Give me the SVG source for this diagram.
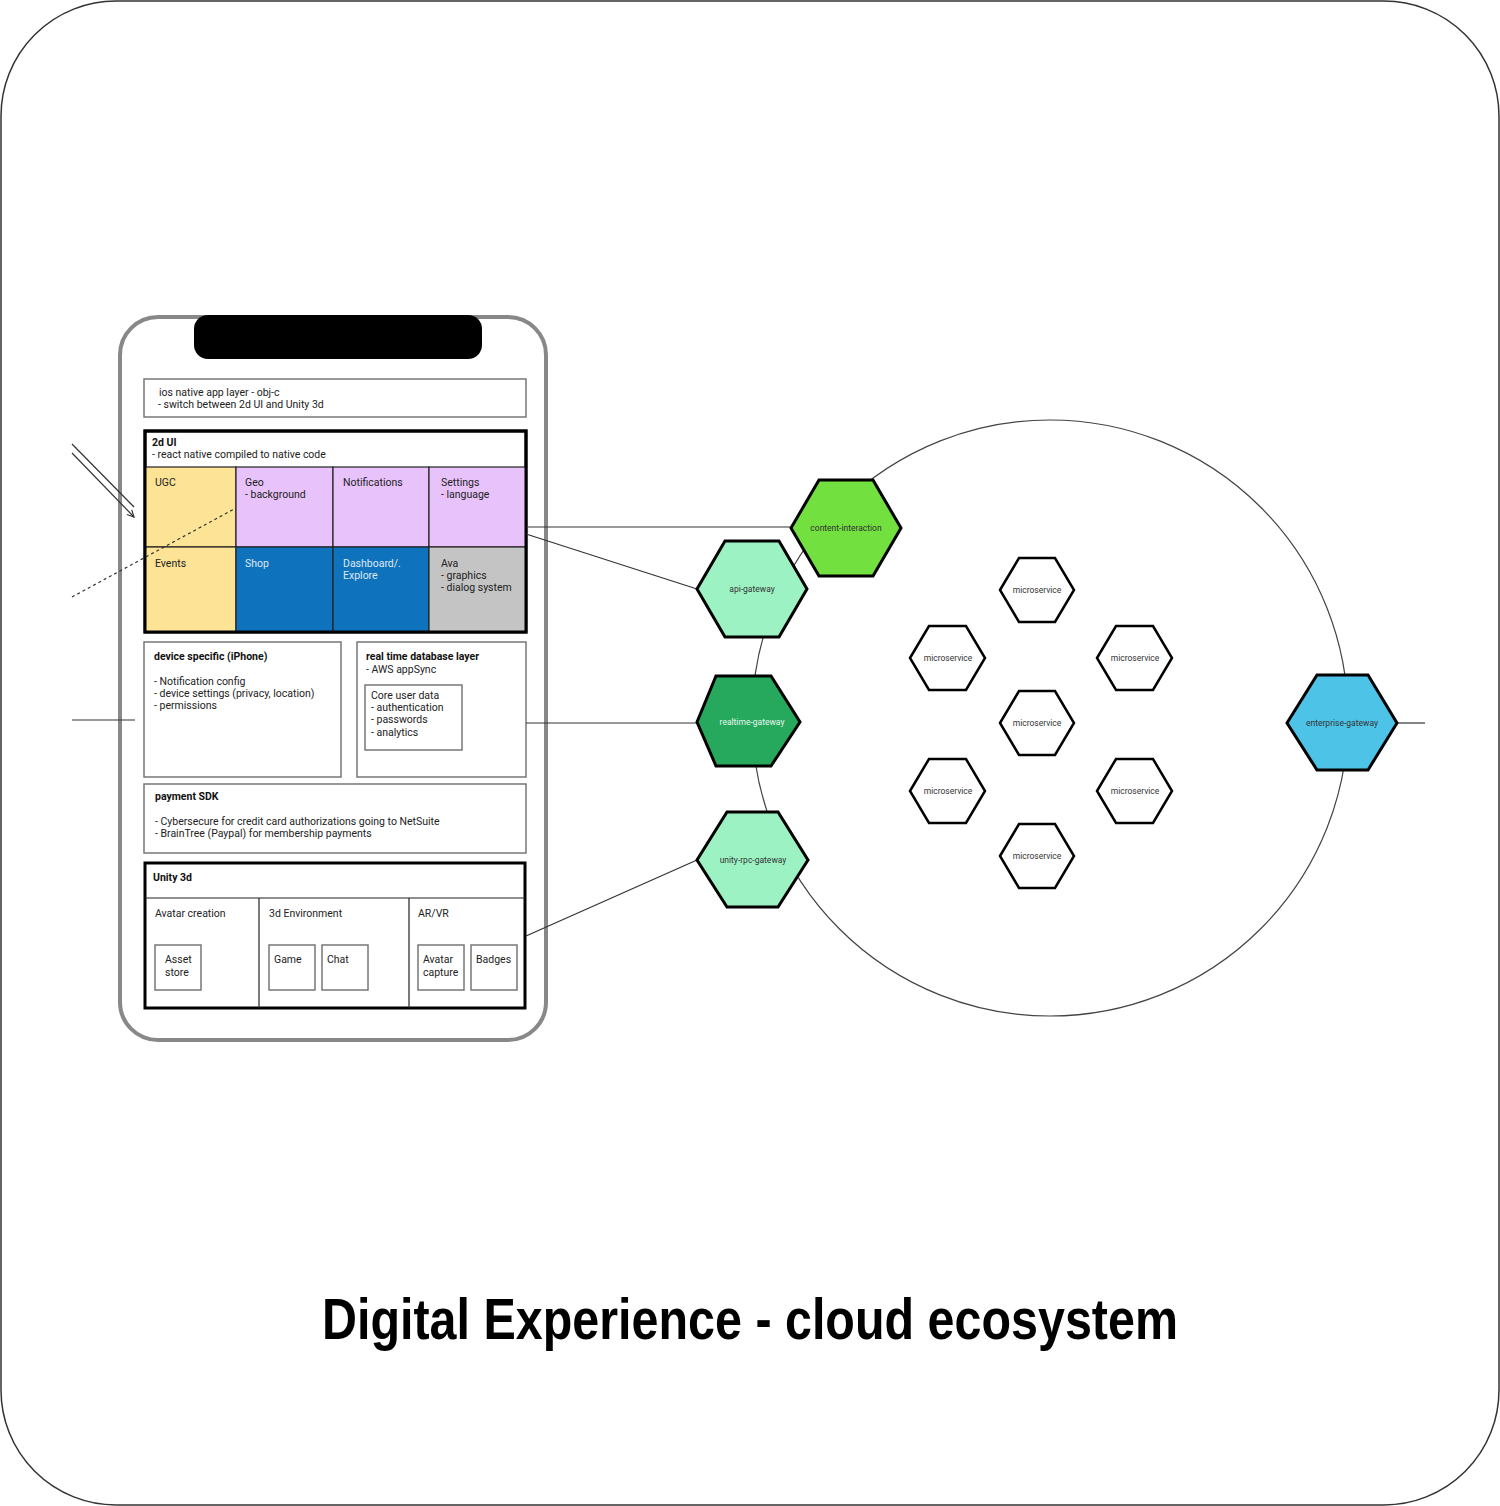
<svg xmlns="http://www.w3.org/2000/svg" width="1500" height="1506" viewBox="0 0 1500 1506">
  <style>
    text { font-family: Roboto, "Liberation Sans", Arial, sans-serif; fill: #222; }
    .t { font-size: 10.5px; }
    .b { font-size: 10.5px; font-weight: bold; fill: #111; }
    .light { fill: #dfe8f2; }
    .box { fill: #fff; stroke: #777; stroke-width: 1.5; }
    .heavy { fill: #fff; stroke: #000; stroke-width: 3; }
    .cell { stroke: #222; stroke-width: 1.2; }
    .sep { stroke: #222; stroke-width: 1.2; fill: none; }
    .wire { stroke: #333; stroke-width: 1.2; fill: none; }
    .hex { stroke: #000; stroke-width: 3; }
    .ms { fill: #fff; stroke: #000; stroke-width: 2.5; }
    .hl { font-size: 8.5px; text-anchor: middle; fill: #333; }
  </style>
  <defs>
    <marker id="open-arrow" viewBox="0 0 10 10" refX="9" refY="5" markerWidth="7" markerHeight="7" orient="auto">
      <path d="M1,1 L9,5 L1,9" fill="none" stroke="#333" stroke-width="1.4"/>
    </marker>
  </defs>

  <!-- page frame -->
  <rect x="1" y="1" width="1498" height="1504" rx="115" fill="#fff" stroke="#333" stroke-width="1.5"/>

  <!-- cloud boundary -->
  <circle cx="1050" cy="718" r="298" fill="none" stroke="#444" stroke-width="1.2"/>

  <!-- phone body -->
  <g id="phone">
    <rect x="120" y="317" width="426" height="723" rx="38" fill="none" stroke="#888" stroke-width="4"/>
    <rect x="194" y="315" width="288" height="44" rx="14" fill="#000"/>
  </g>

  <g id="ios-layer">
    <rect class="box" x="144" y="379" width="382" height="38"/>
    <text class="t" x="159" y="396">ios native app layer - obj-c</text>
    <text class="t" x="158" y="408">- switch between 2d UI and Unity 3d</text>
  </g>

  <g id="ui-2d">
    <rect class="heavy" x="145" y="431" width="381" height="201"/>
    <rect class="cell" x="145" y="467" width="91" height="80" fill="#fde395"/>
    <rect class="cell" x="236" y="467" width="97" height="80" fill="#e8c2fa"/>
    <rect class="cell" x="333" y="467" width="96" height="80" fill="#e8c2fa"/>
    <rect class="cell" x="429" y="467" width="97" height="80" fill="#e8c2fa"/>
    <rect class="cell" x="145" y="547" width="91" height="85" fill="#fde395"/>
    <rect class="cell" x="236" y="547" width="97" height="85" fill="#0f72bd"/>
    <rect class="cell" x="333" y="547" width="96" height="85" fill="#0f72bd"/>
    <rect class="cell" x="429" y="547" width="97" height="85" fill="#c4c4c4"/>
    <rect x="145" y="431" width="381" height="201" fill="none" stroke="#000" stroke-width="3"/>
    <text class="b" x="152" y="446">2d UI</text>
    <text class="t" x="152" y="458">- react native compiled to native code</text>
    <text class="t" x="155" y="486">UGC</text>
    <text class="t" x="245" y="486">Geo</text>
    <text class="t" x="245" y="498">- background</text>
    <text class="t" x="343" y="486">Notifications</text>
    <text class="t" x="441" y="486">Settings</text>
    <text class="t" x="441" y="498">- language</text>
    <text class="t" x="155" y="567">Events</text>
    <text class="t light" x="245" y="567">Shop</text>
    <text class="t light" x="343" y="567">Dashboard/.</text>
    <text class="t light" x="343" y="579">Explore</text>
    <text class="t" x="441" y="567">Ava</text>
    <text class="t" x="441" y="579">- graphics</text>
    <text class="t" x="441" y="591">- dialog system</text>
  </g>

  <g id="device-specific">
    <rect class="box" x="144" y="642" width="197" height="135"/>
    <text class="b" x="154" y="660">device specific (iPhone)</text>
    <text class="t" x="154" y="685">- Notification config</text>
    <text class="t" x="154" y="697">- device settings (privacy, location)</text>
    <text class="t" x="154" y="709">- permissions</text>
  </g>

  <g id="realtime-db">
    <rect class="box" x="357" y="642" width="169" height="135"/>
    <text class="b" x="366" y="660">real time database layer</text>
    <text class="t" x="366" y="673">- AWS appSync</text>
    <rect class="box" x="365" y="685" width="97" height="65"/>
    <text class="t" x="371" y="699">Core user data</text>
    <text class="t" x="371" y="711">- authentication</text>
    <text class="t" x="371" y="723">- passwords</text>
    <text class="t" x="371" y="736">- analytics</text>
  </g>

  <g id="payment-sdk">
    <rect class="box" x="144" y="784" width="382" height="69"/>
    <text class="b" x="155" y="800">payment SDK</text>
    <text class="t" x="155" y="825">- Cybersecure for credit card authorizations going to NetSuite</text>
    <text class="t" x="155" y="837">- BrainTree (Paypal) for membership payments</text>
  </g>

  <g id="unity-3d">
    <rect class="heavy" x="145" y="863" width="380" height="145"/>
    <line class="sep" x1="145" y1="898" x2="525" y2="898"/>
    <line class="sep" x1="259" y1="898" x2="259" y2="1008"/>
    <line class="sep" x1="409" y1="898" x2="409" y2="1008"/>
    <text class="b" x="153" y="881">Unity 3d</text>
    <text class="t" x="155" y="917">Avatar creation</text>
    <text class="t" x="269" y="917">3d Environment</text>
    <text class="t" x="418" y="917">AR/VR</text>
    <rect class="box" x="155" y="945" width="46" height="45"/>
    <text class="t" x="165" y="963">Asset</text>
    <text class="t" x="165" y="976">store</text>
    <rect class="box" x="269" y="945" width="46" height="45"/>
    <text class="t" x="274" y="963">Game</text>
    <rect class="box" x="322" y="945" width="46" height="45"/>
    <text class="t" x="327" y="963">Chat</text>
    <rect class="box" x="418" y="945" width="46" height="45"/>
    <text class="t" x="423" y="963">Avatar</text>
    <text class="t" x="423" y="976">capture</text>
    <rect class="box" x="471" y="945" width="46" height="45"/>
    <text class="t" x="476" y="963">Badges</text>
  </g>

  <!-- connectors -->
  <g id="connectors">
    <line class="wire" x1="72" y1="444" x2="134" y2="507"/>
    <line class="wire" x1="72" y1="453" x2="134" y2="517" marker-end="url(#open-arrow)"/>
    <line class="wire" x1="72" y1="597" x2="236" y2="508" stroke-dasharray="3,3"/>
    <line class="wire" x1="72" y1="720" x2="135" y2="720"/>
    <line class="wire" x1="526" y1="527" x2="791" y2="527"/>
    <line class="wire" x1="526" y1="534" x2="697" y2="589"/>
    <line class="wire" x1="526" y1="723" x2="697" y2="723"/>
    <line class="wire" x1="526" y1="936" x2="697" y2="860"/>
    <line class="wire" x1="1397" y1="723" x2="1425" y2="723"/>
  </g>

  <!-- gateways -->
  <g id="content-interaction">
    <polygon class="hex" fill="#72e03f" points="791,528 819,480 873,480 901,528 873,576 819,576"/>
    <text class="hl" x="846" y="531">content-interaction</text>
  </g>
  <g id="api-gateway">
    <polygon class="hex" fill="#9df2c4" points="697,589 725,541 779,541 807,589 779,637 725,637"/>
    <text class="hl" x="752" y="592">api-gateway</text>
  </g>
  <g id="realtime-gateway">
    <polygon class="hex" fill="#26a95d" points="697,722 716,676 771,676 800,722 771,766 716,766"/>
    <text class="hl" x="752" y="725" style="fill:#e6f7ee">realtime-gateway</text>
  </g>
  <g id="unity-rpc-gateway">
    <polygon class="hex" fill="#9df2c4" points="697,860 727,812 778,812 808,860 778,907 727,907"/>
    <text class="hl" x="753" y="863">unity-rpc-gateway</text>
  </g>
  <g id="enterprise-gateway">
    <polygon class="hex" fill="#4dc3e8" points="1287,723 1317,675 1368,675 1397,723 1368,770 1317,770"/>
    <text class="hl" x="1342" y="726">enterprise-gateway</text>
  </g>

  <!-- microservices -->
  <g id="ms-top">
    <polygon class="ms" points="1000,590 1019,558 1055,558 1074,590 1055,622 1019,622"/>
    <text class="hl" x="1037" y="593">microservice</text>
  </g>
  <g id="ms-upper-left">
    <polygon class="ms" points="910,658 929,626 966,626 985,658 966,690 929,690"/>
    <text class="hl" x="948" y="661">microservice</text>
  </g>
  <g id="ms-upper-right">
    <polygon class="ms" points="1097,658 1116,626 1153,626 1172,658 1153,690 1116,690"/>
    <text class="hl" x="1135" y="661">microservice</text>
  </g>
  <g id="ms-center">
    <polygon class="ms" points="1000,723 1019,691 1055,691 1074,723 1055,755 1019,755"/>
    <text class="hl" x="1037" y="726">microservice</text>
  </g>
  <g id="ms-lower-left">
    <polygon class="ms" points="910,791 929,759 966,759 985,791 966,823 929,823"/>
    <text class="hl" x="948" y="794">microservice</text>
  </g>
  <g id="ms-lower-right">
    <polygon class="ms" points="1097,791 1116,759 1153,759 1172,791 1153,823 1116,823"/>
    <text class="hl" x="1135" y="794">microservice</text>
  </g>
  <g id="ms-bottom">
    <polygon class="ms" points="1000,856 1019,824 1055,824 1074,856 1055,888 1019,888"/>
    <text class="hl" x="1037" y="859">microservice</text>
  </g>

  <text x="750" y="1339" text-anchor="middle" textLength="856" lengthAdjust="spacingAndGlyphs" style="font-family:'Liberation Sans', Arial, sans-serif; font-size:58px; font-weight:bold; fill:#000">Digital Experience - cloud ecosystem</text>
</svg>
